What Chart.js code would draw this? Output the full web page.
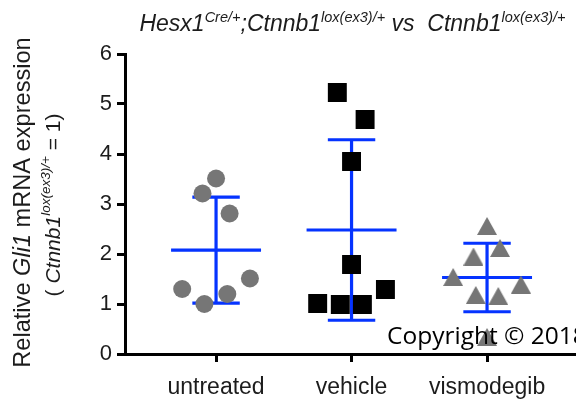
<!DOCTYPE html>
<html>
<head>
<meta charset="utf-8">
<script src="https://cdn.jsdelivr.net/npm/chart.js@4"></script>
<style>
  html, body { margin: 0; padding: 0; background: #fff; overflow: hidden; width: 576px; height: 401px; }
  canvas { display: block; }
</style>
</head>
<body>
<canvas id="c" width="580" height="401"></canvas>
<script>
// Groups on the x axis
const categories = ['untreated', 'vehicle', 'vismodegib'];

// Relative Gli1 expression per animal
const untreated  = [3.51, 3.21, 2.81, 1.51, 1.30, 1.20, 1.00];
const vehicle    = [5.23, 4.69, 3.85, 1.79, 1.29, 1.01, 0.99, 0.99];
const vismodegib = [2.56, 2.12, 1.95, 1.54, 1.39, 1.18, 1.16, 0.34];

// Horizontal scatter of each point within its group (category units)
const untreatedJitter  = [0, -0.10, 0.10, 0.25, -0.25, 0.083, -0.086];
const vehicleJitter    = [-0.105, 0.10, 0, 0, 0.25, -0.25, -0.083, 0.08];
const vismodegibJitter = [0, 0.096, -0.10, -0.25, 0.25, -0.083, 0.083, 0];

// Y axis ticks
const yTicks = [0, 1, 2, 3, 4, 5, 6];

const GREY = '#767676';
const BLUE = '#0533ff';
const SANS = '"Liberation Sans", Arial, Helvetica, sans-serif';

function mean(a) { return a.reduce((s, v) => s + v, 0) / a.length; }
function sd(a) {
  const m = mean(a);
  return Math.sqrt(a.reduce((s, v) => s + (v - m) * (v - m), 0) / (a.length - 1));
}

// Triangle marker centred on its bounding box
function triangleMarker(w, h, color) {
  const c = document.createElement('canvas');
  c.width = w; c.height = h;
  const g = c.getContext('2d');
  g.fillStyle = color;
  g.beginPath();
  g.moveTo(w / 2, 0);
  g.lineTo(w, h);
  g.lineTo(0, h);
  g.closePath();
  g.fill();
  return c;
}

function points(values, jitter, pos) {
  return values.map((v, i) => ({ x: pos + jitter[i], y: v }));
}

// Mean line plus SD whiskers with caps, as one broken line
function meanSd(values, pos) {
  const m = mean(values), s = sd(values);
  const half = 0.332, cap = 0.175;
  const gap = { x: pos, y: null };
  return [
    { x: pos - half, y: m }, { x: pos + half, y: m }, gap,
    { x: pos, y: m - s }, { x: pos, y: m + s }, gap,
    { x: pos - cap, y: m + s }, { x: pos + cap, y: m + s }, gap,
    { x: pos - cap, y: m - s }, { x: pos + cap, y: m - s }
  ];
}

const groups = [
  { values: untreated, jitter: untreatedJitter, style: 'circle', radius: 9, color: GREY },
  { values: vehicle, jitter: vehicleJitter, style: 'rect', radius: 13.4, color: '#000' },
  { values: vismodegib, jitter: vismodegibJitter, style: triangleMarker(20, 18, GREY), radius: 10, color: GREY }
];

const datasets = [];
groups.forEach((g, i) => {
  datasets.push({
    type: 'line',
    data: meanSd(g.values, i + 1),
    borderColor: BLUE,
    borderWidth: 3.2,
    borderCapStyle: 'butt',
    pointRadius: 0,
    spanGaps: false,
    fill: false,
    order: 2
  });
  datasets.push({
    type: 'scatter',
    data: points(g.values, g.jitter, i + 1),
    pointStyle: g.style,
    pointRadius: g.radius,
    backgroundColor: g.color,
    borderWidth: 0,
    order: 1
  });
});

// Draws a run of mixed-style text pieces centred on (cx, baseline)
function drawRuns(ctx, runs, cx, baseline) {
  let total = 0;
  runs.forEach(r => { ctx.font = r.font; r.w = ctx.measureText(r.text).width; total += r.w; });
  let x = cx - total / 2;
  ctx.textAlign = 'left';
  ctx.textBaseline = 'alphabetic';
  runs.forEach(r => {
    ctx.font = r.font;
    ctx.fillText(r.text, x, baseline + (r.dy || 0));
    x += r.w;
  });
}

const annotations = {
  id: 'annotations',
  afterDraw(chart) {
    const ctx = chart.ctx;
    ctx.save();
    ctx.fillStyle = '#1c1c1c';
    const it = s => 'italic ' + s + 'px ' + SANS;
    const rg = s => s + 'px ' + SANS;
    drawRuns(ctx, [
      { text: 'Hesx1', font: it(23) },
      { text: 'Cre/+', font: it(14.5), dy: -9 },
      { text: ';Ctnnb1', font: it(23) },
      { text: 'lox(ex3)/+', font: it(14.5), dy: -9 },
      { text: ' vs  ', font: it(23) },
      { text: 'Ctnnb1', font: it(23) },
      { text: 'lox(ex3)/+', font: it(14.5), dy: -9 }
    ], 352.5, 31);

    ctx.save();
    ctx.rotate(-Math.PI / 2);
    drawRuns(ctx, [
      { text: 'Relative ', font: rg(23.6) },
      { text: 'Gli1', font: it(23.6) },
      { text: ' mRNA expression', font: rg(23.6) }
    ], -202.5, 29.5);
    drawRuns(ctx, [
      { text: '( ', font: rg(21) },
      { text: 'Ctnnb1', font: it(21) },
      { text: 'lox(ex3)/+', font: it(13.5), dy: -10 },
      { text: ' = 1)', font: rg(21) }
    ], -205, 60);
    ctx.restore();

    ctx.fillStyle = '#000';
    ctx.font = '24.5px "Open Sans", sans-serif';
    ctx.textAlign = 'left';
    ctx.textBaseline = 'alphabetic';
    ctx.fillText('Copyright \u00A9 2018', 387, 344);
    ctx.restore();
  }
};

new Chart(document.getElementById('c'), {
  data: { datasets },
  options: {
    responsive: false,
    animation: false,
    events: [],
    layout: { autoPadding: false, padding: { top: 54, left: 0, right: 0, bottom: 0 } },
    plugins: { legend: { display: false }, tooltip: { enabled: false } },
    scales: {
      x: {
        type: 'linear',
        min: 0.328,
        max: 3.686,
        afterBuildTicks: s => { s.ticks = categories.map((c, i) => ({ value: i + 1 })); },
        afterFit: s => { s.height = 47; s.paddingLeft = 0; s.paddingRight = 0; },
        ticks: {
          callback: v => categories[Math.round(v) - 1],
          font: { family: SANS, size: 23 },
          color: '#1c1c1c',
          padding: 12,
          maxRotation: 0,
          autoSkip: false
        },
        grid: { drawOnChartArea: false, drawTicks: true, tickLength: 8, tickWidth: 3, tickColor: '#000' },
        border: { display: true, color: '#000', width: 3 }
      },
      y: {
        min: 0,
        max: 6,
        afterBuildTicks: s => { s.ticks = yTicks.map(v => ({ value: v })); },
        afterFit: s => { s.width = 125; },
        ticks: {
          font: { family: SANS, size: 22 },
          color: '#1c1c1c',
          padding: 5
        },
        grid: { drawOnChartArea: false, drawTicks: true, tickLength: 8, tickWidth: 3, tickColor: '#000' },
        border: { display: true, color: '#000', width: 3 }
      }
    }
  },
  plugins: [annotations]
});
</script>
</body>
</html>
